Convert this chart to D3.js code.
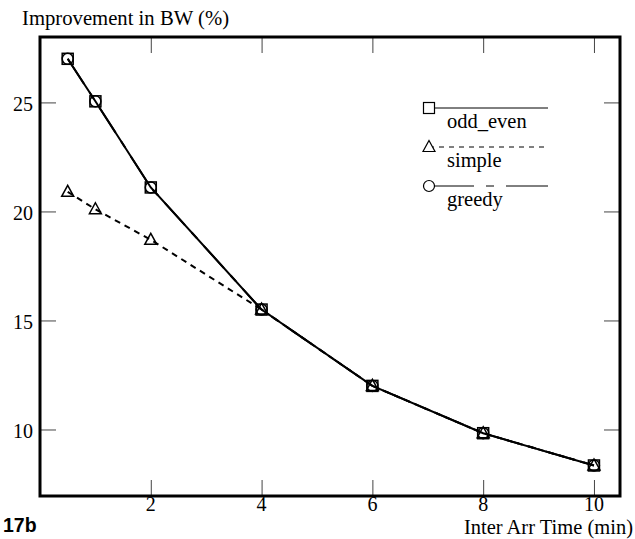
<!DOCTYPE html>
<html><head><meta charset="utf-8">
<script src="https://cdn.jsdelivr.net/npm/d3@7"></script>
<style>body{margin:0;background:#fff}svg{display:block}text{font-family:"Liberation Serif","DejaVu Serif",serif;fill:#000}</style>
</head><body>
<svg id="c" width="635" height="539"></svg>
<script>
const xValues = [0.5, 1, 2, 4, 6, 8, 10];
const oddEven = [27.0, 25.05, 21.1, 15.5, 12.0, 9.83, 8.35];
const simple  = [20.9, 20.1, 18.7, 15.5, 12.0, 9.83, 8.35];
const greedy  = [27.0, 25.05, 21.1, 15.5, 12.0, 9.83, 8.35];
const xTicks = [2, 4, 6, 8, 10];
const yTicks = [10, 15, 20, 25];
const seriesNames = ["odd_even", "simple", "greedy"];

const svg = d3.select("#c");
const L = 40, R = 620, T = 37, B = 496;
const x = d3.scaleLinear().domain([0, 10.47]).range([L, R]);
const y = d3.scaleLinear().domain([6.95, 28]).range([B, T]);

const tickLen = 16;
const gAx = svg.append("g");
const axB = d3.axisTop(x).tickValues(xTicks).tickSize(tickLen).tickFormat("");
const axT = d3.axisBottom(x).tickValues(xTicks).tickSize(tickLen).tickFormat("");
const axL = d3.axisRight(y).tickValues(yTicks).tickSize(tickLen).tickFormat("");
const axR = d3.axisLeft(y).tickValues(yTicks).tickSize(tickLen).tickFormat("");
[[axB, `translate(0,${B})`], [axT, `translate(0,${T})`], [axL, `translate(${L},0)`], [axR, `translate(${R},0)`]].forEach(([a, t]) => {
  const g = gAx.append("g").attr("transform", t).call(a);
  g.select(".domain").remove();
  g.selectAll(".tick line").attr("stroke", "#444").attr("stroke-width", 1);
});
svg.append("g").selectAll("text").data(xTicks).join("text")
  .attr("x", d => x(d)).attr("y", 511).attr("text-anchor", "middle")
  .attr("font-size", 20).text(d => d);
svg.append("g").selectAll("text").data(yTicks).join("text")
  .attr("x", 33).attr("y", d => y(d) + 9).attr("text-anchor", "end")
  .attr("font-size", 20).text(d => d);

svg.append("rect").attr("x", L).attr("y", T).attr("width", R - L).attr("height", B - T)
  .attr("fill", "none").attr("stroke", "#000").attr("stroke-width", 3);

svg.append("text").attr("x", 22).attr("y", 25).attr("font-size", 20.7).text("Improvement in BW (%)");
svg.append("text").attr("x", 633).attr("y", 534).attr("text-anchor", "end").attr("font-size", 20.5).text("Inter Arr Time (min)");
svg.append("text").attr("x", 3).attr("y", 532).attr("font-size", 19.5).attr("font-weight", "bold")
  .style("font-family", "'Liberation Sans',Arial,sans-serif").text("17b");

const dashes = ["none", "6,5", "30,10,8,10"];
const legDashes = ["none", "5,5", "45,12,8,12"];
const data = [oddEven, simple, greedy];
const line = d3.line().x(d => x(d[0])).y(d => y(d[1]));

function marker(g, kind, cx, cy) {
  if (kind === 0) g.append("rect").attr("x", cx - 5.5).attr("y", cy - 5.5).attr("width", 11).attr("height", 11);
  else if (kind === 1) g.append("path").attr("d", `M${cx},${cy - 6.5}L${cx + 6},${cy + 4.5}L${cx - 6},${cy + 4.5}Z`);
  else g.append("circle").attr("cx", cx).attr("cy", cy).attr("r", 5.5);
}

[2, 1, 0].forEach(i => {
  const pts = xValues.map((xv, j) => [xv, data[i][j]]);
  svg.append("path").datum(pts).attr("d", line).attr("fill", "none")
    .attr("stroke", "#000").attr("stroke-width", 2).attr("stroke-dasharray", dashes[i]);
});
[2, 1, 0].forEach(i => {
  const g = svg.append("g").attr("fill", "none").attr("stroke", "#000").attr("stroke-width", 1.5);
  xValues.forEach((xv, j) => marker(g, i, x(xv), y(data[i][j])));
});

const legY = [108, 147, 186];
seriesNames.forEach((name, i) => {
  svg.append("line").attr("x1", 429).attr("x2", 548).attr("y1", legY[i]).attr("y2", legY[i])
    .attr("stroke", "#000").attr("stroke-width", 1).attr("stroke-dasharray", legDashes[i]);
  const g = svg.append("g").attr("fill", "#fff").attr("stroke", "#000").attr("stroke-width", 1.2);
  marker(g, i, 429, legY[i]);
  svg.append("text").attr("x", 447).attr("y", legY[i] + 20).attr("font-size", 20.5).text(name);
});
</script>
</body></html>
